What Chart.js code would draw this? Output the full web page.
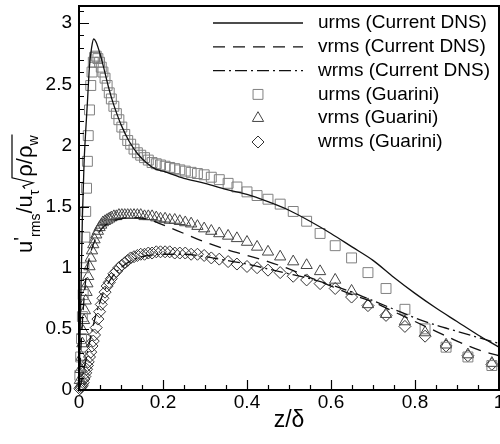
<!DOCTYPE html>
<html>
<head>
<meta charset="utf-8">
<script src="https://cdn.jsdelivr.net/npm/chart.js@4.4.1/dist/chart.umd.min.js"></script>
<style>
  html, body { margin: 0; padding: 0; background: #fff; overflow: hidden; }
  canvas { display: block; }
</style>
</head>
<body>
<canvas id="rmsChart" width="500" height="444"></canvas>
<script>
// Profils rms : DNS courante (lignes) et Guarini (symboles)

// urms DNS (trait plein)
const zUDns = [0, 0.004, 0.008, 0.012, 0.016, 0.02, 0.025, 0.03, 0.035, 0.04, 0.05, 0.06, 0.07, 0.08, 0.09, 0.1, 0.12, 0.14, 0.16, 0.18, 0.2, 0.25, 0.3, 0.35, 0.4, 0.45, 0.5, 0.55, 0.6, 0.65, 0.7, 0.75, 0.8, 0.85, 0.9, 0.95, 1.0];
const uDns  = [0, 0.7, 1.4, 1.85, 2.12, 2.35, 2.65, 2.8, 2.87, 2.85, 2.75, 2.62, 2.48, 2.36, 2.26, 2.17, 2.03, 1.93, 1.86, 1.81, 1.79, 1.73, 1.69, 1.64, 1.6, 1.54, 1.47, 1.38, 1.28, 1.17, 1.06, 0.92, 0.79, 0.67, 0.56, 0.45, 0.35];

// vrms DNS (tirets)
const zVDns = [0, 0.004, 0.008, 0.012, 0.016, 0.02, 0.03, 0.04, 0.05, 0.06, 0.08, 0.1, 0.13, 0.16, 0.2, 0.25, 0.3, 0.35, 0.4, 0.45, 0.5, 0.55, 0.6, 0.65, 0.7, 0.75, 0.8, 0.85, 0.9, 0.95, 1.0];
const vDns  = [0, 0.3, 0.55, 0.75, 0.9, 1.0, 1.15, 1.24, 1.3, 1.34, 1.38, 1.4, 1.41, 1.4, 1.35, 1.28, 1.21, 1.15, 1.1, 1.05, 0.99, 0.92, 0.85, 0.78, 0.72, 0.64, 0.56, 0.48, 0.4, 0.33, 0.28];

// wrms DNS (tiret-point)
const zWDns = [0, 0.005, 0.01, 0.015, 0.02, 0.025, 0.03, 0.04, 0.05, 0.06, 0.08, 0.1, 0.12, 0.15, 0.2, 0.25, 0.3, 0.35, 0.4, 0.45, 0.5, 0.55, 0.6, 0.65, 0.7, 0.75, 0.8, 0.85, 0.9, 0.95, 1.0];
const wDns  = [0, 0.06, 0.14, 0.22, 0.31, 0.39, 0.47, 0.61, 0.72, 0.81, 0.93, 1.0, 1.05, 1.09, 1.11, 1.11, 1.09, 1.06, 1.03, 0.99, 0.95, 0.91, 0.86, 0.8, 0.73, 0.66, 0.59, 0.53, 0.48, 0.43, 0.38];

// Guarini : positions communes
const zGuarini = [0.002, 0.004, 0.006, 0.008, 0.010, 0.012, 0.014, 0.016, 0.018, 0.020, 0.022, 0.025, 0.028, 0.031, 0.034, 0.037, 0.041, 0.045, 0.049, 0.053, 0.057, 0.062, 0.067, 0.072, 0.077, 0.083, 0.089, 0.095, 0.102, 0.109, 0.116, 0.123, 0.131, 0.139, 0.147, 0.156, 0.165, 0.174, 0.184, 0.194, 0.205, 0.216, 0.228, 0.240, 0.253, 0.267, 0.282, 0.298, 0.315, 0.334, 0.355, 0.376, 0.400, 0.424, 0.450, 0.479, 0.510, 0.542, 0.574, 0.610, 0.649, 0.688, 0.731, 0.776, 0.824, 0.874, 0.926, 0.983];
const uGuarini = [0.12, 0.27, 0.42, 0.6, 0.78, 1.0, 1.25, 1.46, 1.65, 1.87, 2.08, 2.29, 2.49, 2.6, 2.68, 2.72, 2.73, 2.71, 2.68, 2.64, 2.6, 2.55, 2.49, 2.43, 2.38, 2.32, 2.26, 2.21, 2.15, 2.09, 2.04, 2.01, 1.97, 1.94, 1.92, 1.9, 1.88, 1.86, 1.85, 1.84, 1.83, 1.82, 1.81, 1.8, 1.79, 1.78, 1.77, 1.76, 1.74, 1.72, 1.69, 1.66, 1.62, 1.59, 1.56, 1.52, 1.46, 1.38, 1.28, 1.18, 1.08, 0.96, 0.83, 0.66, 0.5, 0.35, 0.27, 0.2];
const vGuarini = [0.08, 0.17, 0.27, 0.38, 0.48, 0.57, 0.65, 0.73, 0.8, 0.87, 0.93, 1.01, 1.08, 1.14, 1.19, 1.23, 1.27, 1.3, 1.33, 1.35, 1.37, 1.38, 1.39, 1.4, 1.41, 1.42, 1.42, 1.43, 1.43, 1.43, 1.43, 1.43, 1.43, 1.43, 1.43, 1.42, 1.42, 1.42, 1.41, 1.4, 1.4, 1.39, 1.39, 1.38, 1.37, 1.36, 1.34, 1.32, 1.3, 1.28, 1.26, 1.24, 1.21, 1.17, 1.13, 1.09, 1.05, 1.02, 0.97, 0.9, 0.81, 0.7, 0.62, 0.56, 0.47, 0.37, 0.29, 0.22];
const wGuarini = [0.01, 0.02, 0.03, 0.04, 0.06, 0.09, 0.11, 0.14, 0.17, 0.2, 0.23, 0.27, 0.31, 0.36, 0.4, 0.45, 0.51, 0.58, 0.64, 0.7, 0.75, 0.8, 0.85, 0.88, 0.91, 0.95, 0.97, 1.0, 1.02, 1.04, 1.06, 1.08, 1.09, 1.1, 1.11, 1.11, 1.12, 1.12, 1.13, 1.13, 1.13, 1.13, 1.12, 1.12, 1.12, 1.11, 1.11, 1.1, 1.08, 1.07, 1.05, 1.03, 1.01, 1.0, 0.98, 0.96, 0.93, 0.9, 0.87, 0.83, 0.76, 0.69, 0.61, 0.52, 0.44, 0.36, 0.28, 0.21];

// Graduations et libellés
const xTicks = [0, 0.2, 0.4, 0.6, 0.8, 1];
const yTicks = [0, 0.5, 1, 1.5, 2, 2.5, 3];
const legendLabels = ['urms (Current DNS)', 'vrms (Current DNS)', 'wrms (Current DNS)', 'urms (Guarini)', 'vrms (Guarini)', 'wrms (Guarini)'];

const FONT = '"Liberation Sans", Arial, Helvetica, sans-serif';
Chart.defaults.font.family = FONT;
Chart.defaults.color = '#000';

function toPoints(zs, vals) {
    return zs.map((z, i) => ({ x: z, y: vals[i] }));
}

function dnsLine(label, zs, vals, dash) {
    return {
        label: label,
        data: toPoints(zs, vals),
        showLine: true,
        borderColor: '#111',
        borderWidth: 1.3,
        borderDash: dash,
        pointRadius: 0,
        cubicInterpolationMode: 'monotone'
    };
}

function guariniMarks(label, vals, style, radius, color) {
    return {
        label: label,
        data: toPoints(zGuarini, vals),
        showLine: false,
        pointStyle: style,
        pointRadius: radius,
        pointHoverRadius: radius,
        pointBorderWidth: 1,
        pointBorderColor: color,
        pointBackgroundColor: 'rgba(0,0,0,0)',
        clip: false
    };
}

// Cadre + graduations intérieures (majeures et mineures)
const framePlugin = {
    id: 'frame',
    afterDraw(chart) {
        const { ctx, chartArea: a, scales: { x, y } } = chart;
        ctx.save();
        ctx.strokeStyle = '#000';
        ctx.lineWidth = 1.2;
        ctx.beginPath();
        for (let k = 0; k <= 20; k++) {
            const v = k * 0.05;
            const px = Math.round(x.getPixelForValue(v)) + 0.5;
            const len = xTicks.some(t => Math.abs(t - v) < 1e-6) ? 10 : 5;
            ctx.moveTo(px, a.bottom);
            ctx.lineTo(px, a.bottom - len);
        }
        for (let k = 0; k <= 31; k++) {
            const v = k * 0.1;
            const py = Math.round(y.getPixelForValue(v)) + 0.5;
            const len = yTicks.some(t => Math.abs(t - v) < 1e-6) ? 10 : 5;
            ctx.moveTo(a.left, py);
            ctx.lineTo(a.left + len, py);
        }
        ctx.stroke();
        ctx.lineWidth = 2;
        ctx.strokeRect(a.left, a.top, a.right - a.left, a.bottom - a.top);
        ctx.restore();
    }
};

// Légende dans le coin haut droit
const legendPlugin = {
    id: 'innerLegend',
    afterDraw(chart) {
        const ctx = chart.ctx;
        ctx.save();
        chart.data.datasets.forEach((ds, i) => {
            const yy = 23 + i * 23.8;
            if (ds.showLine) {
                ctx.strokeStyle = ds.borderColor;
                ctx.lineWidth = ds.borderWidth;
                ctx.setLineDash(ds.borderDash || []);
                ctx.beginPath();
                ctx.moveTo(213, yy);
                ctx.lineTo(303, yy);
                ctx.stroke();
                ctx.setLineDash([]);
            } else {
                ctx.strokeStyle = ds.pointBorderColor;
                ctx.fillStyle = 'rgba(0,0,0,0)';
                ctx.lineWidth = 1;
                Chart.helpers.drawPoint(ctx, { pointStyle: ds.pointStyle, radius: ds.pointRadius, borderWidth: 1, rotation: 0 }, 258, yy);
            }
            ctx.fillStyle = '#000';
            ctx.font = '19px ' + FONT;
            ctx.textBaseline = 'middle';
            ctx.textAlign = 'left';
            ctx.fillText(legendLabels[i], 318, yy);
        });
        ctx.restore();
    }
};

// Titre de l'axe y : u'rms/uτ √(ρ/ρw)
const yTitlePlugin = {
    id: 'yTitle',
    afterDraw(chart) {
        const ctx = chart.ctx;
        ctx.save();
        ctx.translate(32, 253);
        ctx.rotate(-Math.PI / 2);
        ctx.fillStyle = '#000';
        ctx.strokeStyle = '#000';
        ctx.textBaseline = 'alphabetic';
        ctx.textAlign = 'left';
        let cx = 0;
        const put = (txt, size, dy) => {
            ctx.font = size + 'px ' + FONT;
            ctx.fillText(txt, cx, dy);
            cx += ctx.measureText(txt).width;
        };
        put('u', 22, 0);
        put('\'', 20, -4);
        put('rms', 14, 8);
        put('/', 22, 0);
        put('u', 22, 0);
        put('τ', 14, 7);
        cx += 1;
        const r0 = cx;
        cx += 12;
        put('ρ/ρ', 22, 0);
        put('w', 14, 6);
        ctx.lineWidth = 1.2;
        ctx.beginPath();
        ctx.moveTo(r0, -7);
        ctx.lineTo(r0 + 2.5, -9);
        ctx.lineTo(r0 + 6, 1);
        ctx.lineTo(r0 + 11, -20);
        ctx.lineTo(cx + 1, -20);
        ctx.stroke();
        ctx.restore();
    }
};

const ctx = document.getElementById('rmsChart').getContext('2d');
new Chart(ctx, {
    type: 'scatter',
    data: {
        datasets: [
            dnsLine(legendLabels[0], zUDns, uDns, []),
            dnsLine(legendLabels[1], zVDns, vDns, [12, 8]),
            dnsLine(legendLabels[2], zWDns, wDns, [12, 4, 2, 4]),
            guariniMarks(legendLabels[3], uGuarini, 'rect', 7, '#808080'),
            guariniMarks(legendLabels[4], vGuarini, 'triangle', 6.5, '#454545'),
            guariniMarks(legendLabels[5], wGuarini, 'rectRot', 6, '#333')
        ]
    },
    options: {
        responsive: false,
        animation: false,
        devicePixelRatio: 1,
        layout: { autoPadding: false, padding: { top: 6, right: 1, left: 0, bottom: 0 } },
        plugins: {
            legend: { display: false },
            tooltip: { enabled: false }
        },
        scales: {
            x: {
                type: 'linear',
                min: 0,
                max: 1,
                grid: { display: false, drawTicks: false },
                border: { display: false },
                afterBuildTicks: scale => { scale.ticks = xTicks.map(v => ({ value: v })); },
                afterFit: scale => {
                    scale.height = 54;
                    scale.paddingLeft = 0;
                    scale.paddingRight = 0;
                },
                ticks: {
                    font: { size: 19 },
                    padding: 1,
                    maxRotation: 0,
                    autoSkip: false,
                    callback: v => String(+v.toFixed(2))
                },
                title: {
                    display: true,
                    text: 'z/δ',
                    font: { size: 23 },
                    padding: { top: 0, bottom: 10 }
                }
            },
            y: {
                type: 'linear',
                min: 0,
                max: 3.14,
                grid: { display: false, drawTicks: false },
                border: { display: false },
                afterBuildTicks: scale => { scale.ticks = yTicks.map(v => ({ value: v })); },
                afterFit: scale => {
                    scale.width = 79;
                    scale.paddingTop = 0;
                    scale.paddingBottom = 0;
                },
                ticks: {
                    font: { size: 19 },
                    padding: 7,
                    autoSkip: false,
                    callback: v => String(+v.toFixed(2))
                }
            }
        }
    },
    plugins: [framePlugin, legendPlugin, yTitlePlugin]
});
</script>
</body>
</html>
